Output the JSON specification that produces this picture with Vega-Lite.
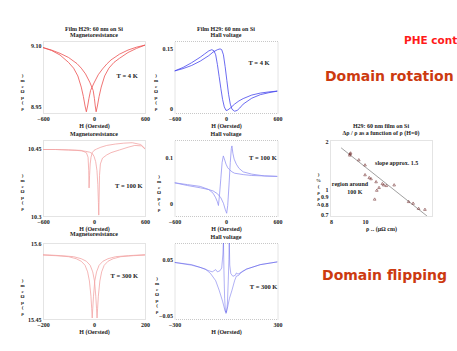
{
  "$schema": "https://vega.github.io/schema/vega-lite/v6.json",
  "background": "white",
  "padding": {"left": 19, "top": 25, "right": 0, "bottom": 0},
  "config": {
    "font": "Liberation Serif",
    "view": {"stroke": "#c8c8c8", "strokeDash": [1, 1]},
    "axis": {"labelFont": "Liberation Serif", "labelFontWeight": "bold", "labelFontSize": 6, "labelColor": "#222", "labelFlush": false, "labelOverlap": false, "ticks": false, "domain": false, "grid": false, "labelPadding": 2, "titleFont": "Liberation Serif", "titleFontSize": 6, "titleFontWeight": "bold", "titleColor": "#222", "titlePadding": 1},
    "axisY": {"titleAngle": 0, "titleAlign": "center", "titleBaseline": "middle", "titleFontSize": 5, "titleLineHeight": 5.5},
    "title": {"font": "Liberation Serif", "fontSize": 6, "fontWeight": "bold", "color": "#222", "offset": 3, "lineHeight": 6.5},
    "text": {"font": "Liberation Serif", "fontWeight": "bold", "fontSize": 6.5, "color": "#222"}
  },
  "datasets": {
    "mr4": [
      {"H": 600, "r": 9.100, "b": "A"}, {"H": 500, "r": 9.095, "b": "A"}, {"H": 400, "r": 9.088, "b": "A"}, {"H": 300, "r": 9.078, "b": "A"}, {"H": 200, "r": 9.064, "b": "A"}, {"H": 150, "r": 9.054, "b": "A"}, {"H": 100, "r": 9.042, "b": "A"}, {"H": 50, "r": 9.028, "b": "A"}, {"H": 0, "r": 9.008, "b": "A"}, {"H": -40, "r": 8.990, "b": "A"}, {"H": -60, "r": 8.970, "b": "A"}, {"H": -75, "r": 8.952, "b": "A"}, {"H": -90, "r": 8.938, "b": "A"}, {"H": -105, "r": 8.952, "b": "A"}, {"H": -125, "r": 8.975, "b": "A"}, {"H": -150, "r": 8.998, "b": "A"}, {"H": -190, "r": 9.025, "b": "A"}, {"H": -240, "r": 9.044, "b": "A"}, {"H": -300, "r": 9.058, "b": "A"}, {"H": -400, "r": 9.076, "b": "A"}, {"H": -500, "r": 9.087, "b": "A"}, {"H": -600, "r": 9.094, "b": "A"},
      {"H": -600, "r": 9.094, "b": "B"}, {"H": -500, "r": 9.088, "b": "B"}, {"H": -400, "r": 9.080, "b": "B"}, {"H": -300, "r": 9.070, "b": "B"}, {"H": -200, "r": 9.055, "b": "B"}, {"H": -150, "r": 9.044, "b": "B"}, {"H": -100, "r": 9.030, "b": "B"}, {"H": -50, "r": 9.010, "b": "B"}, {"H": -10, "r": 8.990, "b": "B"}, {"H": 5, "r": 8.970, "b": "B"}, {"H": 15, "r": 8.952, "b": "B"}, {"H": 25, "r": 8.938, "b": "B"}, {"H": 40, "r": 8.952, "b": "B"}, {"H": 60, "r": 8.975, "b": "B"}, {"H": 85, "r": 8.998, "b": "B"}, {"H": 125, "r": 9.025, "b": "B"}, {"H": 175, "r": 9.044, "b": "B"}, {"H": 235, "r": 9.058, "b": "B"}, {"H": 300, "r": 9.068, "b": "B"}, {"H": 400, "r": 9.082, "b": "B"}, {"H": 500, "r": 9.092, "b": "B"}, {"H": 600, "r": 9.100, "b": "B"}
    ],
    "hall4": [
      {"H": -600, "v": 0.094, "b": "A"}, {"H": -500, "v": 0.103, "b": "A"}, {"H": -400, "v": 0.115, "b": "A"}, {"H": -300, "v": 0.129, "b": "A"}, {"H": -250, "v": 0.137, "b": "A"}, {"H": -200, "v": 0.145, "b": "A"}, {"H": -165, "v": 0.148, "b": "A"}, {"H": -140, "v": 0.145, "b": "A"}, {"H": -120, "v": 0.135, "b": "A"}, {"H": -100, "v": 0.110, "b": "A"}, {"H": -80, "v": 0.080, "b": "A"}, {"H": -60, "v": 0.050, "b": "A"}, {"H": -40, "v": 0.022, "b": "A"}, {"H": -20, "v": 0.003, "b": "A"}, {"H": 0, "v": -0.006, "b": "A"}, {"H": 20, "v": -0.005, "b": "A"}, {"H": 50, "v": 0.000, "b": "A"}, {"H": 100, "v": 0.010, "b": "A"}, {"H": 150, "v": 0.018, "b": "A"}, {"H": 200, "v": 0.024, "b": "A"}, {"H": 300, "v": 0.033, "b": "A"}, {"H": 400, "v": 0.038, "b": "A"}, {"H": 500, "v": 0.041, "b": "A"}, {"H": 600, "v": 0.043, "b": "A"},
      {"H": -600, "v": 0.094, "b": "B"}, {"H": -500, "v": 0.100, "b": "B"}, {"H": -400, "v": 0.108, "b": "B"}, {"H": -300, "v": 0.119, "b": "B"}, {"H": -200, "v": 0.133, "b": "B"}, {"H": -150, "v": 0.142, "b": "B"}, {"H": -100, "v": 0.148, "b": "B"}, {"H": -69, "v": 0.150, "b": "B"}, {"H": -50, "v": 0.148, "b": "B"}, {"H": -30, "v": 0.135, "b": "B"}, {"H": -10, "v": 0.105, "b": "B"}, {"H": 10, "v": 0.070, "b": "B"}, {"H": 30, "v": 0.035, "b": "B"}, {"H": 50, "v": 0.010, "b": "B"}, {"H": 70, "v": -0.003, "b": "B"}, {"H": 100, "v": -0.008, "b": "B"}, {"H": 130, "v": -0.006, "b": "B"}, {"H": 160, "v": 0.000, "b": "B"}, {"H": 200, "v": 0.010, "b": "B"}, {"H": 300, "v": 0.025, "b": "B"}, {"H": 400, "v": 0.034, "b": "B"}, {"H": 500, "v": 0.039, "b": "B"}, {"H": 600, "v": 0.043, "b": "B"}
    ],
    "mr100": [
      {"H": 600, "r": 10.449, "b": "A"}, {"H": 550, "r": 10.458, "b": "A"}, {"H": 450, "r": 10.462, "b": "A"}, {"H": 350, "r": 10.461, "b": "A"}, {"H": 250, "r": 10.459, "b": "A"}, {"H": 150, "r": 10.456, "b": "A"}, {"H": 80, "r": 10.452, "b": "A"}, {"H": 30, "r": 10.448, "b": "A"}, {"H": 0, "r": 10.445, "b": "A"}, {"H": -20, "r": 10.440, "b": "A"}, {"H": -35, "r": 10.430, "b": "A"}, {"H": -45, "r": 10.415, "b": "A"}, {"H": -52, "r": 10.390, "b": "A"}, {"H": -58, "r": 10.362, "b": "A"}, {"H": -62, "r": 10.400, "b": "A"}, {"H": -70, "r": 10.430, "b": "A"}, {"H": -90, "r": 10.440, "b": "A"}, {"H": -150, "r": 10.445, "b": "A"}, {"H": -300, "r": 10.446, "b": "A"}, {"H": -450, "r": 10.447, "b": "A"}, {"H": -600, "r": 10.447, "b": "A"},
      {"H": -600, "r": 10.447, "b": "B"}, {"H": -450, "r": 10.447, "b": "B"}, {"H": -300, "r": 10.446, "b": "B"}, {"H": -200, "r": 10.445, "b": "B"}, {"H": -100, "r": 10.443, "b": "B"}, {"H": -50, "r": 10.441, "b": "B"}, {"H": -20, "r": 10.438, "b": "B"}, {"H": 0, "r": 10.432, "b": "B"}, {"H": 20, "r": 10.420, "b": "B"}, {"H": 35, "r": 10.400, "b": "B"}, {"H": 45, "r": 10.370, "b": "B"}, {"H": 52, "r": 10.330, "b": "B"}, {"H": 56, "r": 10.302, "b": "B"}, {"H": 60, "r": 10.340, "b": "B"}, {"H": 65, "r": 10.390, "b": "B"}, {"H": 75, "r": 10.415, "b": "B"}, {"H": 100, "r": 10.428, "b": "B"}, {"H": 150, "r": 10.435, "b": "B"}, {"H": 200, "r": 10.440, "b": "B"}, {"H": 300, "r": 10.446, "b": "B"}, {"H": 400, "r": 10.452, "b": "B"}, {"H": 480, "r": 10.456, "b": "B"}, {"H": 560, "r": 10.455, "b": "B"}, {"H": 600, "r": 10.448, "b": "B"}
    ],
    "hall100": [
      {"H": -600, "v": 0.045, "b": "A"}, {"H": -450, "v": 0.041, "b": "A"}, {"H": -300, "v": 0.037, "b": "A"}, {"H": -200, "v": 0.030, "b": "A"}, {"H": -150, "v": 0.022, "b": "A"}, {"H": -120, "v": 0.012, "b": "A"}, {"H": -100, "v": 0.003, "b": "A"}, {"H": -88, "v": -0.005, "b": "A"}, {"H": -75, "v": 0.020, "b": "A"}, {"H": -60, "v": 0.055, "b": "A"}, {"H": -45, "v": 0.090, "b": "A"}, {"H": -31, "v": 0.104, "b": "A"}, {"H": -15, "v": 0.095, "b": "A"}, {"H": 0, "v": 0.086, "b": "A"}, {"H": 20, "v": 0.078, "b": "A"}, {"H": 40, "v": 0.074, "b": "A"}, {"H": 70, "v": 0.069, "b": "A"}, {"H": 100, "v": 0.066, "b": "A"}, {"H": 200, "v": 0.063, "b": "A"}, {"H": 300, "v": 0.061, "b": "A"}, {"H": 450, "v": 0.060, "b": "A"}, {"H": 600, "v": 0.059, "b": "A"},
      {"H": -600, "v": 0.045, "b": "B"}, {"H": -450, "v": 0.039, "b": "B"}, {"H": -300, "v": 0.034, "b": "B"}, {"H": -200, "v": 0.030, "b": "B"}, {"H": -150, "v": 0.027, "b": "B"}, {"H": -100, "v": 0.021, "b": "B"}, {"H": -60, "v": 0.012, "b": "B"}, {"H": -30, "v": 0.000, "b": "B"}, {"H": -10, "v": -0.013, "b": "B"}, {"H": 8, "v": -0.022, "b": "B"}, {"H": 20, "v": -0.005, "b": "B"}, {"H": 35, "v": 0.040, "b": "B"}, {"H": 50, "v": 0.090, "b": "B"}, {"H": 62, "v": 0.120, "b": "B"}, {"H": 69, "v": 0.126, "b": "B"}, {"H": 80, "v": 0.110, "b": "B"}, {"H": 95, "v": 0.097, "b": "B"}, {"H": 120, "v": 0.086, "b": "B"}, {"H": 150, "v": 0.077, "b": "B"}, {"H": 200, "v": 0.069, "b": "B"}, {"H": 300, "v": 0.064, "b": "B"}, {"H": 450, "v": 0.060, "b": "B"}, {"H": 600, "v": 0.059, "b": "B"}
    ],
    "mr300": [
      {"H": -200, "r": 15.576, "b": "A"}, {"H": -150, "r": 15.575, "b": "A"}, {"H": -100, "r": 15.573, "b": "A"}, {"H": -70, "r": 15.569, "b": "A"}, {"H": -50, "r": 15.564, "b": "A"}, {"H": -35, "r": 15.556, "b": "A"}, {"H": -25, "r": 15.543, "b": "A"}, {"H": -18, "r": 15.525, "b": "A"}, {"H": -12, "r": 15.495, "b": "A"}, {"H": -9, "r": 15.470, "b": "A"}, {"H": -7, "r": 15.452, "b": "A"}, {"H": -5, "r": 15.470, "b": "A"}, {"H": -2, "r": 15.495, "b": "A"}, {"H": 3, "r": 15.525, "b": "A"}, {"H": 10, "r": 15.543, "b": "A"}, {"H": 20, "r": 15.556, "b": "A"}, {"H": 35, "r": 15.564, "b": "A"}, {"H": 55, "r": 15.569, "b": "A"}, {"H": 85, "r": 15.573, "b": "A"}, {"H": 135, "r": 15.575, "b": "A"}, {"H": 200, "r": 15.577, "b": "A"},
      {"H": -200, "r": 15.577, "b": "B"}, {"H": -130, "r": 15.575, "b": "B"}, {"H": -80, "r": 15.573, "b": "B"}, {"H": -50, "r": 15.569, "b": "B"}, {"H": -30, "r": 15.564, "b": "B"}, {"H": -15, "r": 15.556, "b": "B"}, {"H": -5, "r": 15.543, "b": "B"}, {"H": 2, "r": 15.525, "b": "B"}, {"H": 7, "r": 15.495, "b": "B"}, {"H": 10, "r": 15.470, "b": "B"}, {"H": 12, "r": 15.452, "b": "B"}, {"H": 14, "r": 15.470, "b": "B"}, {"H": 17, "r": 15.495, "b": "B"}, {"H": 23, "r": 15.525, "b": "B"}, {"H": 30, "r": 15.543, "b": "B"}, {"H": 40, "r": 15.556, "b": "B"}, {"H": 55, "r": 15.564, "b": "B"}, {"H": 75, "r": 15.569, "b": "B"}, {"H": 105, "r": 15.573, "b": "B"}, {"H": 155, "r": 15.575, "b": "B"}, {"H": 200, "r": 15.576, "b": "B"}
    ],
    "hall300": [
      {"H": -300, "v": 0.045, "b": "A"}, {"H": -200, "v": 0.040, "b": "A"}, {"H": -150, "v": 0.036, "b": "A"}, {"H": -100, "v": 0.030, "b": "A"}, {"H": -80, "v": 0.028, "b": "A"}, {"H": -60, "v": 0.032, "b": "A"}, {"H": -50, "v": 0.028, "b": "A"}, {"H": -35, "v": 0.030, "b": "A"}, {"H": -25, "v": 0.035, "b": "A"}, {"H": -18, "v": 0.060, "b": "A"}, {"H": -15, "v": 0.085, "b": "A"}, {"H": -12, "v": 0.030, "b": "A"}, {"H": -8, "v": -0.020, "b": "A"}, {"H": -3, "v": -0.045, "b": "A"}, {"H": 0, "v": -0.047, "b": "A"}, {"H": 10, "v": -0.035, "b": "A"}, {"H": 20, "v": -0.020, "b": "A"}, {"H": 35, "v": -0.005, "b": "A"}, {"H": 50, "v": 0.012, "b": "A"}, {"H": 60, "v": 0.020, "b": "A"}, {"H": 75, "v": 0.022, "b": "A"}, {"H": 90, "v": 0.028, "b": "A"}, {"H": 120, "v": 0.033, "b": "A"}, {"H": 200, "v": 0.041, "b": "A"}, {"H": 300, "v": 0.046, "b": "A"},
      {"H": -300, "v": 0.045, "b": "B"}, {"H": -200, "v": 0.041, "b": "B"}, {"H": -120, "v": 0.033, "b": "B"}, {"H": -90, "v": 0.025, "b": "B"}, {"H": -60, "v": 0.012, "b": "B"}, {"H": -40, "v": -0.005, "b": "B"}, {"H": -20, "v": -0.025, "b": "B"}, {"H": -5, "v": -0.043, "b": "B"}, {"H": 3, "v": -0.045, "b": "B"}, {"H": 8, "v": -0.030, "b": "B"}, {"H": 13, "v": 0.010, "b": "B"}, {"H": 17, "v": 0.050, "b": "B"}, {"H": 19, "v": 0.085, "b": "B"}, {"H": 22, "v": 0.040, "b": "B"}, {"H": 28, "v": 0.025, "b": "B"}, {"H": 40, "v": 0.020, "b": "B"}, {"H": 55, "v": 0.022, "b": "B"}, {"H": 60, "v": 0.026, "b": "B"}, {"H": 70, "v": 0.024, "b": "B"}, {"H": 90, "v": 0.027, "b": "B"}, {"H": 120, "v": 0.033, "b": "B"}, {"H": 200, "v": 0.041, "b": "B"}, {"H": 300, "v": 0.046, "b": "B"}
    ],
    "pts": [
      {"rho": 9.06, "d": 1.68}, {"rho": 9.1, "d": 1.70}, {"rho": 9.05, "d": 1.65}, {"rho": 9.6, "d": 1.54}, {"rho": 10.0, "d": 1.43}, {"rho": 10.0, "d": 1.24}, {"rho": 10.28, "d": 1.19}, {"rho": 10.4, "d": 1.17}, {"rho": 10.75, "d": 1.12}, {"rho": 11.2, "d": 1.09}, {"rho": 11.3, "d": 1.07}, {"rho": 11.5, "d": 1.06}, {"rho": 12.1, "d": 1.07}, {"rho": 10.96, "d": 1.03}, {"rho": 10.8, "d": 0.99}, {"rho": 10.65, "d": 0.87}, {"rho": 13.3, "d": 0.84}, {"rho": 13.7, "d": 0.82}, {"rho": 14.2, "d": 0.76}, {"rho": 14.8, "d": 0.75}
    ],
    "fit": [{"rho": 8.55, "d": 1.83}, {"rho": 15.0, "d": 0.68}]
  },
  "spacing": 32,
  "hconcat": [
    {
      "spacing": 2.5,
      "hconcat": [
        {
          "bounds": "flush",
          "spacing": 27,
          "vconcat": [
            {
              "width": 102, "height": 72,
              "title": {"text": ["Film H29: 60 nm on Si", "Magnetoresistance"]},
              "layer": [
                {"data": {"name": "mr4"}, "mark": {"type": "line", "color": "#ec5050", "strokeWidth": 0.8, "clip": true},
                 "encoding": {
                   "x": {"field": "H", "type": "quantitative", "scale": {"domain": [-600, 600], "nice": false}, "axis": {"values": [-600, -300, 0, 300, 600], "title": "H (Oersted)"}},
                   "y": {"field": "r", "type": "quantitative", "scale": {"domain": [8.935, 9.11], "zero": false, "nice": false}, "axis": {"values": [8.95, 9.0, 9.05, 9.1], "format": ".2f", "title": [")", "m", "c", "Ω", "μ", "(", "ρ"], "titleX": -21, "titleY": 33}},
                   "detail": {"field": "b"}}},
                {"data": {"values": [{"t": "T = 4 K"}]}, "mark": {"type": "text"}, "encoding": {"text": {"field": "t"}, "x": {"datum": 390}, "y": {"datum": 9.025}}}
              ]
            },
            {
              "width": 102, "height": 76,
              "title": {"text": "Magnetoresistance"},
              "layer": [
                {"data": {"name": "mr100"}, "mark": {"type": "line", "color": "#f2a4a4", "strokeWidth": 0.8, "clip": true},
                 "encoding": {
                   "x": {"field": "H", "type": "quantitative", "scale": {"domain": [-600, 600], "nice": false}, "axis": {"values": [-600, -300, 0, 300, 600], "title": "H (Oersted)"}},
                   "y": {"field": "r", "type": "quantitative", "scale": {"domain": [10.3, 10.468], "zero": false, "nice": false}, "axis": {"values": [10.3, 10.35, 10.4, 10.45], "format": ".2~f", "title": [")", "m", "c", "Ω", "μ", "(", "ρ"], "titleX": -21, "titleY": 34}},
                   "detail": {"field": "b"}}},
                {"data": {"values": [{"t": "T = 100 K"}]}, "mark": {"type": "text"}, "encoding": {"text": {"field": "t"}, "x": {"datum": 410}, "y": {"datum": 10.366}}}
              ]
            },
            {
              "width": 102, "height": 76,
              "title": {"text": "Magnetoresistance"},
              "layer": [
                {"data": {"name": "mr300"}, "mark": {"type": "line", "color": "#f2a4a4", "strokeWidth": 0.8, "clip": true},
                 "encoding": {
                   "x": {"field": "H", "type": "quantitative", "scale": {"domain": [-200, 200], "nice": false}, "axis": {"values": [-200, -100, 0, 100, 200], "title": "H (Oersted)"}},
                   "y": {"field": "r", "type": "quantitative", "scale": {"domain": [15.45, 15.6], "zero": false, "nice": false}, "axis": {"values": [15.45, 15.5, 15.55, 15.6], "format": ".2~f", "title": [")", "m", "c", "Ω", "μ", "(", "ρ"], "titleX": -21, "titleY": 36}},
                   "detail": {"field": "b"}}},
                {"data": {"values": [{"t": "T = 300 K"}]}, "mark": {"type": "text"}, "encoding": {"text": {"field": "t"}, "x": {"datum": 119}, "y": {"datum": 15.535}}}
              ]
            }
          ]
        },
        {
          "bounds": "flush",
          "spacing": 27,
          "vconcat": [
            {
              "width": 103, "height": 72,
              "title": {"text": ["Film H29: 60 nm on Si", "Hall voltage"]},
              "layer": [
                {"data": {"name": "hall4"}, "mark": {"type": "line", "color": "#4646ee", "strokeWidth": 0.8, "clip": true},
                 "encoding": {
                   "x": {"field": "H", "type": "quantitative", "scale": {"domain": [-600, 600], "nice": false}, "axis": {"values": [-600, -300, 0, 300, 600], "title": "H (Oersted)"}},
                   "y": {"field": "v", "type": "quantitative", "scale": {"domain": [-0.0125, 0.17], "zero": false, "nice": false}, "axis": {"values": [0, 0.05, 0.1, 0.15], "format": ".2~f", "title": [")", "m", "c", "Ω", "μ", "(", "ρ"], "titleX": -19, "titleY": 33}},
                   "detail": {"field": "b"}}},
                {"data": {"values": [{"t": "T = 4 K"}]}, "mark": {"type": "text"}, "encoding": {"text": {"field": "t"}, "x": {"datum": 385}, "y": {"datum": 0.115}}}
              ]
            },
            {
              "width": 103, "height": 76,
              "title": {"text": "Hall voltage"},
              "layer": [
                {"data": {"name": "hall100"}, "mark": {"type": "line", "color": "#9494f2", "strokeWidth": 0.8, "clip": true},
                 "encoding": {
                   "x": {"field": "H", "type": "quantitative", "scale": {"domain": [-600, 600], "nice": false}, "axis": {"values": [-600, -300, 0, 300, 600], "title": "H (Oersted)"}},
                   "y": {"field": "v", "type": "quantitative", "scale": {"domain": [-0.028, 0.139], "zero": false, "nice": false}, "axis": {"values": [0, 0.05, 0.1], "format": ".2~f", "title": [")", "m", "c", "Ω", "μ", "(", "ρ"], "titleX": -16, "titleY": 35}},
                   "detail": {"field": "b"}}},
                {"data": {"values": [{"t": "T = 100 K"}]}, "mark": {"type": "text"}, "encoding": {"text": {"field": "t"}, "x": {"datum": 430}, "y": {"datum": 0.1}}}
              ]
            },
            {
              "width": 103, "height": 76,
              "title": {"text": "Hall voltage"},
              "layer": [
                {"data": {"name": "hall300"}, "mark": {"type": "line", "color": "#3c3ce6", "strokeOpacity": 0.5, "strokeWidth": 0.8, "clip": true},
                 "encoding": {
                   "x": {"field": "H", "type": "quantitative", "scale": {"domain": [-300, 300], "nice": false}, "axis": {"values": [-300, -200, -100, 0, 100, 200, 300], "title": "H (Oersted)"}},
                   "y": {"field": "v", "type": "quantitative", "scale": {"domain": [-0.057, 0.08], "zero": false, "nice": false}, "axis": {"values": [-0.05, 0, 0.05], "format": ".2~f", "title": [")", "m", "c", "Ω", "μ", "(", "ρ"], "titleX": -18, "titleY": 34}},
                   "detail": {"field": "b"}}},
                {"data": {"values": [{"t": "T = 300 K"}]}, "mark": {"type": "text"}, "encoding": {"text": {"field": "t"}, "x": {"datum": 219}, "y": {"datum": 0.0}}}
              ]
            }
          ]
        }
      ]
    },
    {
      "bounds": "flush",
      "spacing": 27,
      "vconcat": [
        {
          "width": 102, "height": 72,
          "view": {"stroke": null},
          "layer": [
            {"data": {"values": [{"t": "PHE cont"}]}, "mark": {"type": "text", "align": "left", "baseline": "middle", "font": "DejaVu Sans", "fontWeight": "bold", "fontSize": 10.5, "color": "#ff1a1a"},
             "encoding": {"text": {"field": "t"}, "x": {"datum": 72.5, "scale": {"domain": [0, 100]}, "axis": null}, "y": {"datum": 100, "scale": {"domain": [0, 100]}, "axis": null}}},
            {"data": {"values": [{"t": "Domain rotation"}]}, "mark": {"type": "text", "align": "left", "baseline": "middle", "font": "DejaVu Sans", "fontWeight": "bold", "fontSize": 14, "color": "#cc3a10"},
             "encoding": {"text": {"field": "t"}, "x": {"datum": -4.9}, "y": {"datum": 50}}}
          ]
        },
        {
          "width": 102, "height": 76,
          "title": {"text": ["H29: 60 nm film on Si", "Δρ / ρ as a function of  ρ (H=0)"]},
          "layer": [
            {"data": {"name": "fit"}, "mark": {"type": "line", "color": "#888", "strokeWidth": 0.8, "clip": true},
             "encoding": {
               "x": {"field": "rho", "type": "quantitative", "scale": {"type": "log", "domain": [7.95, 15.5], "nice": false}, "axis": {"values": [8, 10], "format": "~g", "title": "ρ ₓₓ (μΩ cm)"}},
               "y": {"field": "d", "type": "quantitative", "scale": {"type": "log", "domain": [0.68, 2.05], "nice": false}, "axis": {"values": [0.7, 0.8, 0.9, 1, 2], "format": "~g", "title": [")", "%", "(", "ρ", "ρ", "Δ"], "titleX": -12, "titleLineHeight": 6, "titleY": 33}}}},
            {"data": {"name": "pts"}, "mark": {"type": "point", "shape": "triangle-up", "filled": false, "size": 7, "color": "#6e2a2a", "strokeWidth": 0.8},
             "encoding": {"x": {"field": "rho", "type": "quantitative"}, "y": {"field": "d", "type": "quantitative"}}},
            {"data": {"values": [{"t": "slope approx. 1.5"}]}, "mark": {"type": "text", "fontSize": 6}, "encoding": {"text": {"field": "t"}, "x": {"datum": 12.3}, "y": {"datum": 1.46}}},
            {"data": {"values": [{"t": "region around"}]}, "mark": {"type": "text", "fontSize": 6}, "encoding": {"text": {"field": "t"}, "x": {"datum": 9.06}, "y": {"datum": 1.075}}},
            {"data": {"values": [{"t": "100 K"}]}, "mark": {"type": "text", "fontSize": 6}, "encoding": {"text": {"field": "t"}, "x": {"datum": 9.36}, "y": {"datum": 0.96}}}
          ]
        },
        {
          "width": 102, "height": 76,
          "view": {"stroke": null},
          "layer": [
            {"data": {"values": [{"t": "Domain flipping"}]}, "mark": {"type": "text", "align": "left", "baseline": "middle", "font": "DejaVu Sans", "fontWeight": "bold", "fontSize": 14, "color": "#cc3a10"},
             "encoding": {"text": {"field": "t"}, "x": {"datum": -7.8, "scale": {"domain": [0, 100]}, "axis": null}, "y": {"datum": 56.6, "scale": {"domain": [0, 100]}, "axis": null}}}
          ]
        }
      ]
    }
  ]
}
